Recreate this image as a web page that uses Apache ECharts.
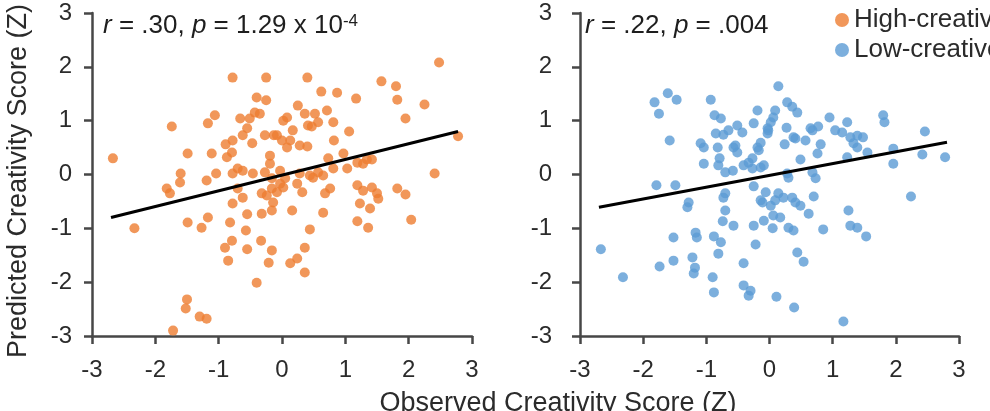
<!DOCTYPE html>
<html>
<head>
<meta charset="utf-8">
<script src="https://cdn.jsdelivr.net/npm/echarts@6/dist/echarts.min.js"></script>
<style>
html, body { margin: 0; padding: 0; background: #fff; }
#chart { width: 990px; height: 411px; }
</style>
</head>
<body>
<div id="chart"></div>
<script>
// tick values shared by both panels
var tickValues = [-3, -2, -1, 0, 1, 2, 3];

// high-creative group: [observed, predicted]
var highCreative = [
  [-0.78, 1.80], [-0.25, 1.80], [0.40, 1.80], [1.57, 1.73], [2.48, 2.08], [0.62, 1.54], [0.87, 1.52],
  [1.17, 1.41], [1.80, 1.64], [1.82, 1.39], [2.25, 1.30], [-0.40, 1.43], [-0.25, 1.38], [-0.43, 1.15],
  [-0.35, 1.13], [0.25, 1.28], [0.71, 1.19], [0.52, 1.13], [0.36, 1.13], [-1.06, 1.10], [-1.17, 0.95],
  [-0.66, 1.04], [-0.51, 1.04], [0.08, 1.06], [0.02, 1.00], [0.41, 0.91], [0.57, 0.97], [0.47, 0.89],
  [0.81, 0.97], [-1.74, 0.89], [-0.55, 0.86], [-0.62, 0.73], [-0.27, 0.73], [-0.13, 0.73], [-0.78, 0.63],
  [-0.08, 0.73], [0.00, 0.63], [0.13, 0.63], [0.17, 0.82], [-0.89, 0.56], [-0.47, 0.58], [0.08, 0.50],
  [0.28, 0.54], [0.40, 0.52], [1.06, 0.80], [0.82, 0.63], [1.95, 1.04], [2.78, 0.71], [-2.67, 0.30],
  [-1.49, 0.39], [-1.11, 0.39], [-0.87, 0.32], [-0.79, 0.41], [-0.19, 0.35], [-0.19, 0.20], [0.97, 0.39],
  [0.73, 0.30], [1.34, 0.28], [-1.60, 0.02], [-1.04, 0.02], [-1.19, -0.11], [-0.70, 0.11], [-0.78, 0.02],
  [-0.62, 0.07], [-0.46, 0.02], [-0.27, 0.04], [-0.03, 0.07], [0.28, 0.02], [0.44, -0.02], [0.57, 0.04],
  [0.65, -0.02], [1.03, 0.11], [1.19, 0.22], [1.28, 0.20], [1.42, 0.28], [0.81, 0.11], [-0.16, -0.07],
  [-0.03, -0.17], [0.05, -0.07], [-0.16, -0.26], [-0.08, -0.33], [0.02, -0.24], [-0.32, -0.35], [-0.24, -0.39],
  [-0.70, -0.26], [-0.62, -0.43], [0.32, -0.33], [0.24, -0.17], [0.49, -0.06], [0.68, -0.35], [0.76, -0.26],
  [1.19, -0.20], [1.28, -0.30], [1.42, -0.24], [1.50, -0.35], [1.52, -0.45], [1.23, -0.54], [1.39, -0.63],
  [-0.78, -0.54], [-0.14, -0.52], [-0.55, -0.74], [-0.32, -0.73], [-0.16, -0.67], [0.16, -0.67], [0.65, -0.71],
  [-1.17, -0.80], [-1.27, -0.99], [-0.82, -0.89], [1.19, -0.87], [1.36, -0.99], [0.44, -1.02], [-0.57, -1.04],
  [-0.33, -1.23], [-0.79, -1.23], [-0.90, -1.36], [-0.55, -1.39], [-0.85, -1.60], [-0.16, -1.41], [0.36, -1.36],
  [0.24, -1.56], [0.13, -1.65], [-0.21, -1.64], [0.36, -1.82], [-0.40, -2.01], [2.41, 0.02], [1.82, -0.26],
  [1.95, -0.37], [2.04, -0.84], [-2.33, -1.00], [-1.82, -0.26], [-1.77, -0.35], [-1.61, -0.15], [-1.49, -0.89],
  [-1.50, -2.32], [-1.52, -2.49], [-1.30, -2.64], [-1.19, -2.68], [-1.72, -2.90]
];

// low-creative group: [observed, predicted]
var lowCreative = [
  [-1.61, 1.51], [-1.82, 1.34], [-1.47, 1.39], [-1.75, 1.13], [-0.93, 1.39], [-1.58, 0.63], [-0.87, 1.10],
  [-0.77, 1.04], [-0.85, 0.76], [-0.73, 0.74], [-0.65, 0.82], [-0.51, 0.91], [-0.43, 0.78], [-0.25, 0.95],
  [-0.19, 1.19], [-1.09, 0.58], [-1.04, 0.50], [-0.82, 0.50], [-0.57, 0.50], [-1.04, 0.20], [-0.81, 0.17],
  [-0.58, 0.07], [-0.41, 0.17], [-0.27, 0.30], [-0.19, 0.50], [0.14, 1.64], [0.28, 1.34], [0.36, 1.26],
  [0.44, 1.15], [0.09, 1.19], [0.06, 1.06], [-0.03, 0.86], [0.02, 0.97], [-0.03, 0.76], [0.27, 0.87],
  [-0.54, 0.54], [-0.51, 0.41], [-0.14, 0.59], [-0.17, 0.45], [0.24, 0.56], [0.41, 0.67], [0.57, 0.63],
  [0.68, 0.82], [0.77, 0.89], [0.95, 1.06], [1.04, 0.82], [1.15, 0.78], [1.23, 0.97], [1.28, 0.69],
  [1.39, 0.72], [1.48, 0.69], [1.39, 0.50], [0.81, 0.56], [0.76, 0.39], [0.49, 0.28], [-0.79, 0.30],
  [-0.70, 0.04], [-0.33, 0.22], [-0.27, 0.11], [-0.14, 0.13], [0.30, -0.06], [0.68, 0.04], [0.73, -0.07],
  [-1.49, -0.20], [-1.79, -0.20], [-0.25, -0.22], [-0.70, -0.35], [-0.73, -0.43], [-1.28, -0.52], [-1.30, -0.61],
  [-0.06, -0.33], [-0.14, -0.48], [0.14, -0.35], [0.22, -0.43], [0.09, -0.48], [0.02, -0.58], [0.36, -0.43],
  [0.41, -0.52], [0.49, -0.58], [0.70, -0.41], [0.62, -0.73], [-0.70, -0.67], [-0.74, -0.87], [-0.57, -0.95],
  [0.06, -0.76], [0.17, -0.80], [-0.09, -0.86], [-0.25, -0.95], [0.05, -1.00], [0.30, -0.99], [0.38, -1.04],
  [0.85, -1.02], [1.25, -0.67], [1.28, -0.95], [1.39, -0.99], [1.53, -1.15], [-1.52, -1.17], [-1.17, -1.08],
  [-1.15, -1.17], [-0.88, -1.15], [-0.77, -1.26], [-0.22, -1.30], [-0.81, -1.47], [0.44, -1.45], [0.54, -1.62],
  [-1.52, -1.60], [-1.22, -1.54], [-1.18, -1.73], [-1.20, -1.84], [-0.90, -1.91], [-0.41, -1.65], [-0.88, -2.19],
  [-0.41, -2.06], [-0.30, -2.16], [-0.33, -2.25], [0.11, -2.27], [-2.67, -1.39], [-2.32, -1.91], [-1.74, -1.71],
  [2.24, -0.41], [0.39, -2.47], [1.17, -2.73], [-0.02, 0.82], [1.80, 1.10], [1.82, 0.97], [2.46, 0.80],
  [1.23, 0.32], [1.55, 0.41], [1.96, 0.48], [2.42, 0.37], [2.78, 0.32], [1.96, 0.20], [0.28, 0.02],
  [-0.09, 0.17], [0.38, 0.69], [0.65, 0.86], [1.33, 0.58], [-0.11, -0.52]
];

// fitted lines (end points)
var highFit = [[-2.70, -0.80], [2.78, 0.80]];
var lowFit = [[-2.70, -0.61], [2.81, 0.60]];

var highColor = '#ED7D31';
var lowColor = '#5B9BD5';
var font = 'Liberation Sans, Arial, sans-serif';

function makeAxis(idx, labelMargin) {
	return {
		gridIndex: idx,
		type: 'value',
		min: tickValues[0],
		max: tickValues[tickValues.length - 1],
		interval: 1,
		splitLine: { show: false },
		axisLine: { onZero: false, lineStyle: { color: '#474747', width: 2.5 } },
		axisTick: { show: true, length: 8, lineStyle: { color: '#474747', width: 2.5 } },
		axisLabel: { margin: labelMargin, color: '#2b2b2b', fontSize: 24, fontFamily: font }
	};
}

var chart = echarts.init(document.getElementById('chart'));

var option = {
	animation: false,
	backgroundColor: '#fff',
	grid: [
		{ left: 92, top: 13, width: 380, height: 323 },
		{ left: 580, top: 13, width: 379, height: 323 }
	],
	xAxis: [makeAxis(0, 22), makeAxis(1, 22)],
	yAxis: [makeAxis(0, 20), makeAxis(1, 28)],
	legend: {
		orient: 'vertical',
		left: 835,
		top: 7,
		padding: 0,
		itemGap: 4,
		itemWidth: 14,
		itemHeight: 14,
		icon: 'circle',
		data: ['High-creative', 'Low-creative'],
		textStyle: { fontSize: 26, lineHeight: 26, color: '#2b2b2b', fontFamily: font }
	},
	graphic: [
		{
			type: 'text', left: 103, top: 13,
			style: {
				text: '{i|r} = .30, {i|p} = 1.29 x 10{s|-4}',
				fontSize: 26, fontFamily: font, fill: '#1e1e1e',
				rich: {
					i: { fontStyle: 'italic', fontSize: 26, fontFamily: font },
					s: { fontSize: 17, fontFamily: font, verticalAlign: 'top' }
				}
			}
		},
		{
			type: 'text', left: 585, top: 13,
			style: {
				text: '{i|r} = .22, {i|p} = .004',
				fontSize: 26, fontFamily: font, fill: '#1e1e1e',
				rich: {
					i: { fontStyle: 'italic', fontSize: 26, fontFamily: font }
				}
			}
		},
		{
			type: 'text', x: 19, y: 181, rotation: Math.PI / 2,
			style: {
				text: 'Predicted Creativity Score (Z)',
				fontSize: 27, fontFamily: font, fill: '#2b2b2b',
				align: 'center', verticalAlign: 'middle'
			}
		},
		{
			type: 'text', x: 558, y: 390,
			style: {
				text: 'Observed Creativity Score (Z)',
				fontSize: 27, fontFamily: font, fill: '#2b2b2b',
				align: 'center', verticalAlign: 'top'
			}
		}
	],
	series: [
		{
			name: 'High-creative', type: 'scatter', xAxisIndex: 0, yAxisIndex: 0,
			symbolSize: 10, itemStyle: { color: highColor }, z: 2,
			data: highCreative
		},
		{
			name: 'highFit', type: 'line', xAxisIndex: 0, yAxisIndex: 0,
			symbol: 'none', silent: true, z: 3,
			lineStyle: { color: '#000', width: 3 },
			data: highFit
		},
		{
			name: 'Low-creative', type: 'scatter', xAxisIndex: 1, yAxisIndex: 1,
			symbolSize: 10, itemStyle: { color: lowColor }, z: 2,
			data: lowCreative
		},
		{
			name: 'lowFit', type: 'line', xAxisIndex: 1, yAxisIndex: 1,
			symbol: 'none', silent: true, z: 3,
			lineStyle: { color: '#000', width: 3 },
			data: lowFit
		}
	]
};

chart.setOption(option);
</script>
</body>
</html>
